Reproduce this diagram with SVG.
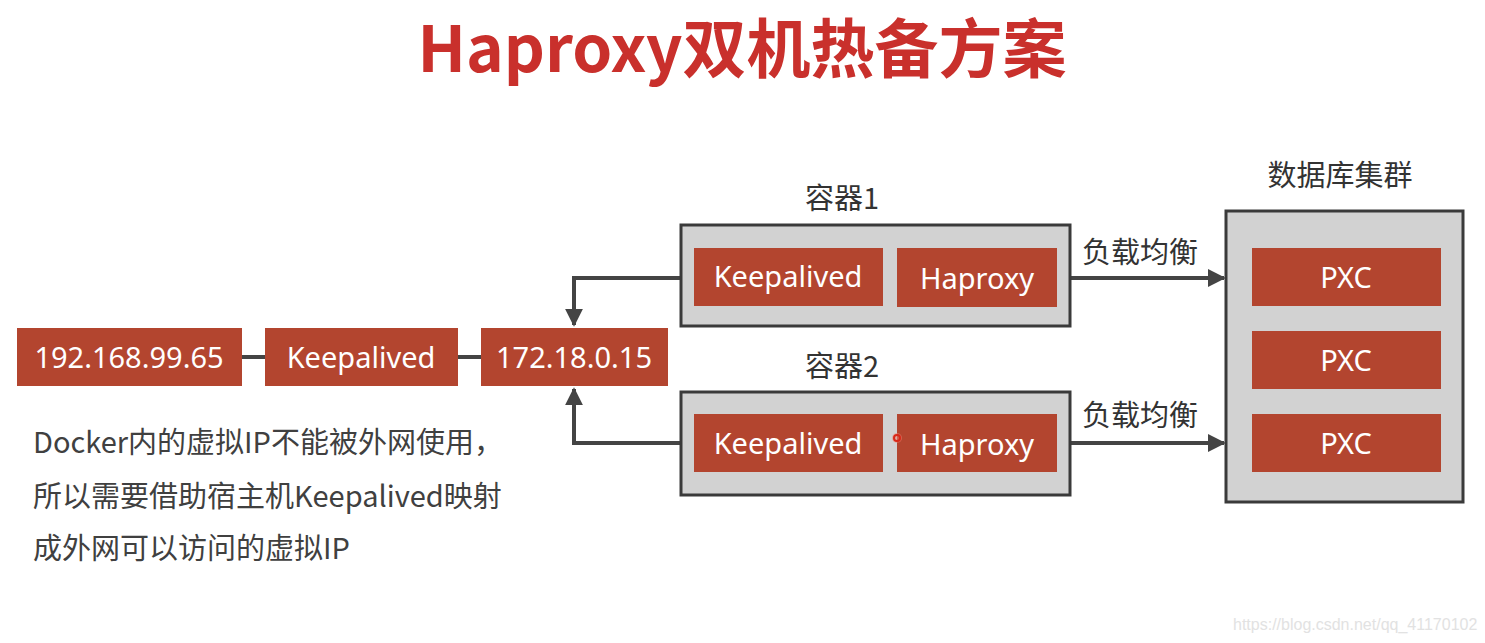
<svg xmlns="http://www.w3.org/2000/svg" width="1485" height="643" viewBox="0 0 1485 643">
<defs>
<style>
.red{fill:#b3452f;}
.wt{fill:#ffffff;font-size:29px;text-anchor:middle;font-family:"Noto Sans","Noto Sans CJK SC",sans-serif;}
.lbl{fill:#333333;font-size:29px;font-family:"Noto Sans CJK SC",sans-serif;}
.box{fill:#d2d2d2;stroke:#3a3a3a;stroke-width:3;}
.ln{stroke:#444444;stroke-width:4;fill:none;}
</style>
<marker id="ah" viewBox="0 0 10 10" refX="9" refY="5" markerWidth="4.5" markerHeight="4.5" orient="auto" markerUnits="strokeWidth">
<path d="M0,0 L10,5 L0,10 z" fill="#444444"/>
</marker>
</defs>
<rect width="1485" height="643" fill="#ffffff"/>
<text x="742" y="72" font-size="64" font-weight="700" fill="#c9302c" text-anchor="middle" font-family="'Noto Sans CJK SC',sans-serif">Haproxy双机热备方案</text>

<g id="connectors">
<line class="ln" x1="242" y1="357" x2="265" y2="357" stroke-width="6"/>
<line class="ln" x1="458" y1="357" x2="481" y2="357" stroke-width="6"/>
<polyline class="ln" points="681,278 574,278 574,325" marker-end="url(#ah)"/>
<polyline class="ln" points="681,443 574,443 574,389" marker-end="url(#ah)"/>
<line class="ln" x1="1057" y1="278" x2="1224" y2="278" marker-end="url(#ah)"/>
<line class="ln" x1="1057" y1="443" x2="1224" y2="443" marker-end="url(#ah)"/>
<text class="lbl" x="1082" y="263">负载均衡</text>
<text class="lbl" x="1082" y="426">负载均衡</text>
</g>

<g id="ip-host">
<rect class="red" x="17" y="328" width="225" height="58"/>
<text class="wt" x="129" y="368">192.168.99.65</text>
</g>
<g id="keepalived-host">
<rect class="red" x="265" y="328" width="193" height="58"/>
<text class="wt" x="361" y="368">Keepalived</text>
</g>
<g id="ip-virtual">
<rect class="red" x="481" y="328" width="187" height="58"/>
<text class="wt" x="574" y="368">172.18.0.15</text>
</g>

<g id="container1">
<text class="lbl" x="842" y="209" text-anchor="middle">容器1</text>
<rect class="box" x="681" y="225" width="389" height="101"/>
<rect class="red" x="694" y="248" width="189" height="58"/>
<text class="wt" x="788" y="287">Keepalived</text>
<rect class="red" x="897" y="248" width="160" height="59"/>
<text class="wt" x="977" y="289">Haproxy</text>
</g>

<g id="container2">
<text class="lbl" x="842" y="377" text-anchor="middle">容器2</text>
<rect class="box" x="681" y="392" width="389" height="103"/>
<rect class="red" x="694" y="414" width="189" height="58"/>
<text class="wt" x="788" y="454">Keepalived</text>
<rect class="red" x="897" y="414" width="160" height="58"/>
<text class="wt" x="977" y="455">Haproxy</text>
<circle cx="897" cy="438" r="5" fill="#f08070" opacity="0.5"/>
<circle cx="897" cy="438" r="3" fill="none" stroke="#d82818" stroke-width="2"/>
</g>

<g id="db-cluster">
<text class="lbl" x="1340" y="186" text-anchor="middle">数据库集群</text>
<rect class="box" x="1226" y="211" width="237" height="291"/>
<rect class="red" x="1252" y="248" width="189" height="58"/>
<text class="wt" x="1346" y="288">PXC</text>
<rect class="red" x="1252" y="331" width="189" height="58"/>
<text class="wt" x="1346" y="371">PXC</text>
<rect class="red" x="1252" y="414" width="189" height="58"/>
<text class="wt" x="1346" y="454">PXC</text>
</g>

<g id="note" fill="#404040" font-size="29" font-family="'Noto Sans CJK SC',sans-serif">
<text x="33" y="453">Docker内的虚拟IP不能被外网使用，</text>
<text x="33" y="507">所以需要借助宿主机Keepalived映射</text>
<text x="33" y="559">成外网可以访问的虚拟IP</text>
</g>

<text x="1233" y="630" font-size="16" fill="#e2e2e2" font-family="'Liberation Sans',sans-serif">https://blog.csdn.net/qq_41170102</text>
</svg>
